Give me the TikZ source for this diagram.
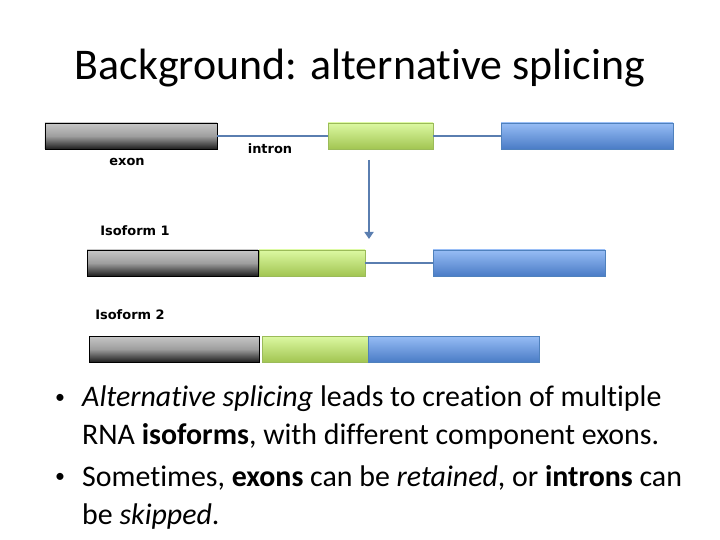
\documentclass[tikz,border=0pt]{standalone}
\usepackage{fontspec}
\setmainfont{Carlito}[Ligatures=NoCommon]
\newfontfamily\labelfont{DejaVu Sans}
\usetikzlibrary{arrows.meta}

\definecolor{introncol}{HTML}{5A7EB0}
\definecolor{greentop}{HTML}{DCF9A2}
\definecolor{greenbot}{HTML}{A2C552}
\definecolor{greenline}{HTML}{9BBB59}
\definecolor{bluetop}{HTML}{97BDF5}
\definecolor{bluebot}{HTML}{4A7CC6}
\definecolor{blueline}{HTML}{4F81BD}

\begin{document}
\begin{tikzpicture}[x=1bp, y=-1bp]

\tikzset{exonbox/.style={rectangle, inner sep=0pt, minimum height=26bp}}
\tikzset{grayexon/.style={exonbox, draw=black, line width=0.8pt, top color=black!22, bottom color=black!88, middle color=black!38}}
\tikzset{greenexon/.style={exonbox, draw=greenline, line width=0.8pt, top color=greentop, bottom color=greenbot}}
\tikzset{blueexon/.style={exonbox, draw=blueline, line width=0.8pt, top color=bluetop, bottom color=bluebot}}
\tikzset{intronline/.style={draw=introncol, line width=2.8pt}}
\tikzset{smalllabel/.style={font=\labelfont\fontsize{13}{15}\selectfont\bfseries, inner sep=0pt}}
\tikzset{bullettext/.style={anchor=north west, inner sep=0pt, align=left, font=\fontsize{30}{38}\selectfont}}

\useasboundingbox (0,0) rectangle (720,540);

% slide title
\node at (360, 68) (title) {\fontsize{44}{52}\selectfont Background: alternative splicing};

% pre-mRNA: exon, intron, exon, intron, exon
\node[grayexon, minimum width=172bp] at (131, 136) (gA) {};
\node[greenexon, minimum width=105bp] at (380.5, 136) (cA) {};
\node[blueexon, minimum width=172bp] at (587, 136) (bA) {};
\node[smalllabel] at (127, 162) (exonlbl) {exon};
\node[smalllabel] at (270, 149) (intronlbl) {intron};

% introns
\draw[intronline] (gA.east) -- (cA.west);
\draw[intronline] (cA.east) -- (bA.west);

% splicing arrow
\coordinate (arrtop) at (369, 160);
\coordinate (arrbot) at (369, 239);
\draw[intronline, line width=2.4pt, -{Triangle[length=7bp, width=9bp]}] (arrtop) -- (arrbot);

% isoform 1
\node[smalllabel] at (135, 231) (iso1) {Isoform 1};
\node[grayexon, minimum width=171bp] at (172.5, 263) (gB) {};
\node[greenexon, minimum width=106bp] at (312, 263) (cB) {};
\node[blueexon, minimum width=172bp] at (519, 263) (bB) {};
\draw[intronline] (cB.east) -- (bB.west);

% isoform 2
\node[smalllabel] at (130, 315) (iso2) {Isoform 2};
\node[grayexon, minimum width=170bp] at (174, 349) (gC) {};
\node[greenexon, minimum width=106bp] at (315, 349) (cC) {};
\node[blueexon, minimum width=171bp] at (453.5, 349) (bC) {};

% bullet points
\node[inner sep=0pt] at (60, 399) (dot1) {\fontsize{20}{24}\selectfont •};
\node[inner sep=0pt] at (60, 478) (dot2) {\fontsize{20}{24}\selectfont •};
\node[bullettext] at (82, 386) (txt1)
  {\textit{Alternative splicing} leads to creation of multiple\\
   RNA \textbf{isoforms}, with different component exons.};
\node[bullettext] at (82, 465) (txt2)
  {Sometimes, \textbf{exons} can be \textit{retained}, or \textbf{introns} can\\
   be \textit{skipped}.};

\end{tikzpicture}
\end{document}
